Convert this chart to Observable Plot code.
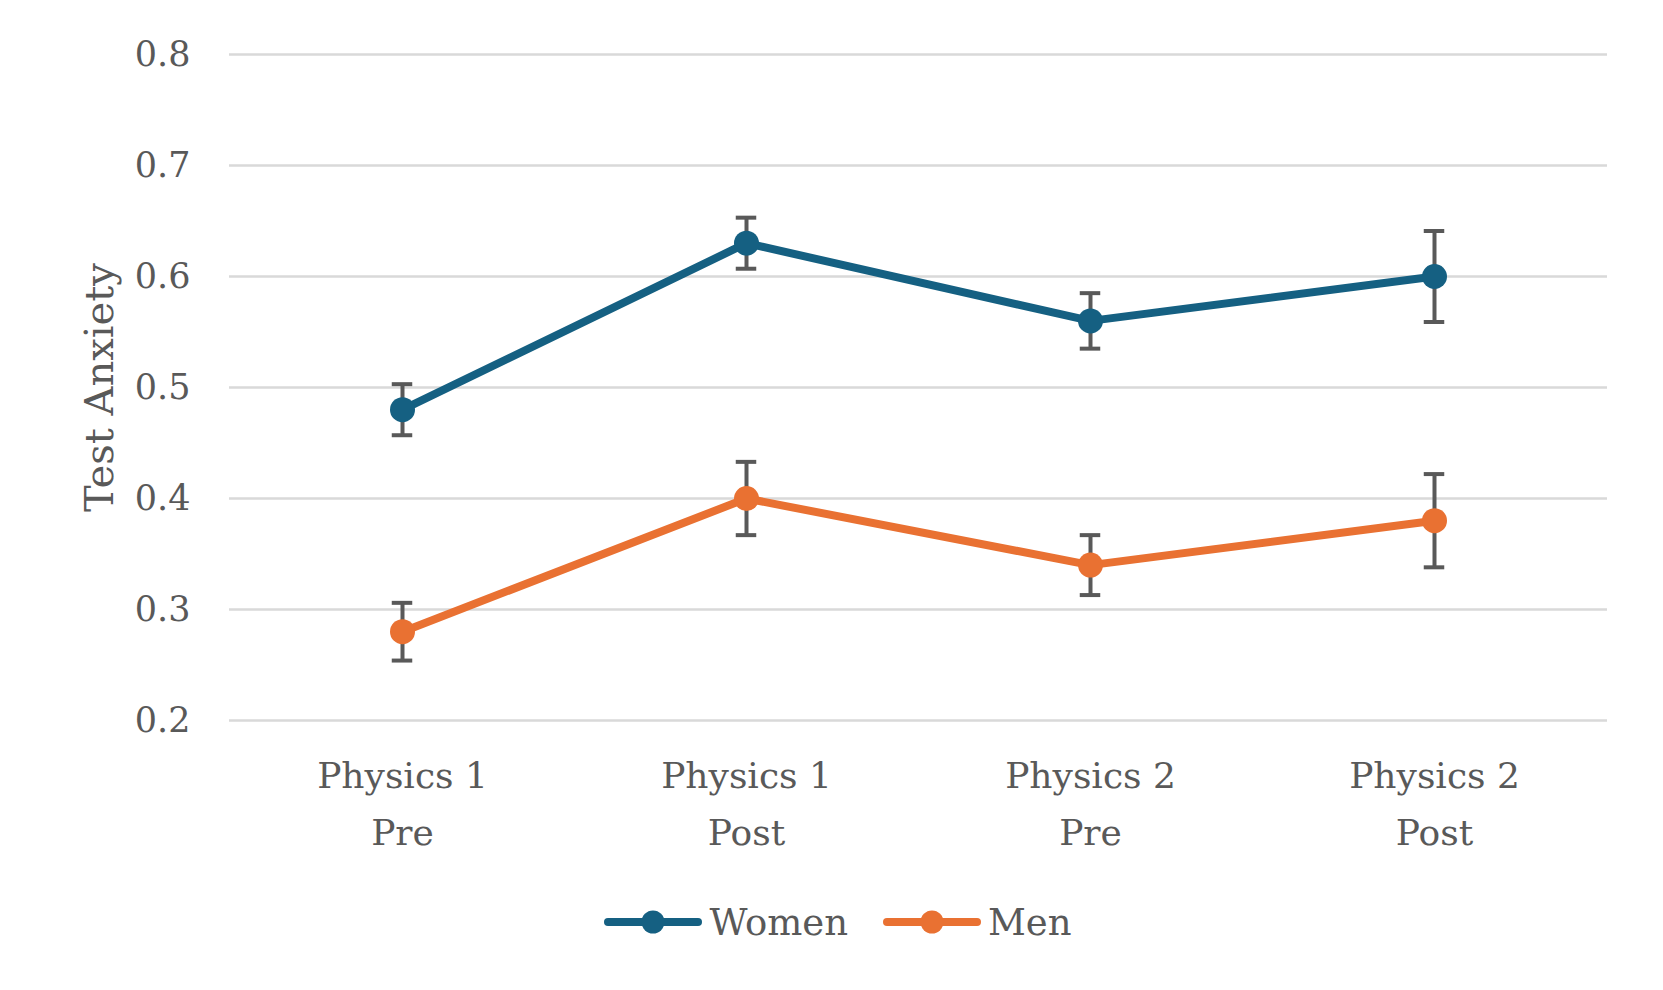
<!DOCTYPE html>
<html>
<head>
<meta charset="utf-8">
<script src="https://cdn.jsdelivr.net/npm/d3@7"></script>
<script src="https://cdn.jsdelivr.net/npm/@observablehq/plot@0.6"></script>
<style>
  html, body { margin: 0; padding: 0; background: #fff; }
  #chart svg { display: block; }
  .legend { height: 74px; display: flex; justify-content: center; align-items: center; font-family: "DejaVu Serif", serif; font-size: 37px; color: #595959; padding-left: 12px; }
  .legend .item { display: flex; align-items: center; margin: 0 17px; }
  .legend svg { margin-right: 6px; }
</style>
</head>
<body>
<div id="chart"></div>
<script>
const categories = ["Physics 1\nPre", "Physics 1\nPost", "Physics 2\nPre", "Physics 2\nPost"];
const seriesNames = ["Women", "Men"];
const seriesColors = ["#156082", "#E97132"];
const womenValues = [0.48, 0.63, 0.56, 0.60];
const womenErrors = [0.023, 0.023, 0.025, 0.041];
const menValues = [0.28, 0.40, 0.34, 0.38];
const menErrors = [0.026, 0.033, 0.027, 0.042];
const yTicks = [0.2, 0.3, 0.4, 0.5, 0.6, 0.7, 0.8];

const data = [];
categories.forEach((c, i) => {
  data.push({cat: c, series: "Women", value: womenValues[i], err: womenErrors[i]});
});
categories.forEach((c, i) => {
  data.push({cat: c, series: "Men", value: menValues[i], err: menErrors[i]});
});

const W = 1663, H = 885;
const mL = 229, mR = 56, mT = 54, mB = H - 720;
const bw = (W - mL - mR) / categories.length;
const capW = 21;
const inset = (bw - capW) / 2;
const text = "#595959";

const chart = Plot.plot({
  width: W,
  height: H,
  marginLeft: mL,
  marginRight: mR,
  marginTop: mT,
  marginBottom: mB,
  style: {fontFamily: "DejaVu Serif, serif", fontSize: "34px", color: text, background: "#fff"},
  x: {type: "band", domain: categories, padding: 0},
  y: {domain: [0.2, 0.8]},
  color: {domain: seriesNames, range: seriesColors},
  marks: [
    Plot.gridY(yTicks, {stroke: "#D9D9D9", strokeOpacity: 1, strokeWidth: 2.5}),
    Plot.axisY(yTicks, {tickSize: 0, tickPadding: 39, tickFormat: d3.format(".1f"), fontSize: 35, fill: text, label: null}),
    Plot.axisY({label: "Test Anxiety", labelAnchor: "center", labelArrow: "none", labelOffset: 145, fontSize: 40, fill: text, tickSize: 0, ticks: [], letterSpacing: 1}),
    Plot.axisX({tickSize: 0, tickPadding: 27, fontSize: 36, fill: text, lineHeight: 1.58, label: null}),
    Plot.ruleX(data, {x: "cat", y1: d => d.value - d.err, y2: d => d.value + d.err, stroke: text, strokeWidth: 4}),
    Plot.tickY(data, {x: "cat", y: d => d.value - d.err, stroke: text, strokeWidth: 4, insetLeft: inset, insetRight: inset}),
    Plot.tickY(data, {x: "cat", y: d => d.value + d.err, stroke: text, strokeWidth: 4, insetLeft: inset, insetRight: inset}),
    Plot.line(data, {x: "cat", y: "value", z: "series", stroke: "series", strokeWidth: 8, strokeLinecap: "round", strokeLinejoin: "round"}),
    Plot.dot(data, {x: "cat", y: "value", fill: "series", r: 12.5, stroke: "none"})
  ]
});
document.getElementById("chart").appendChild(chart);

const legend = document.createElement("div");
legend.className = "legend";
seriesNames.forEach((name, i) => {
  const item = document.createElement("div");
  item.className = "item";
  item.innerHTML = `<svg width="100" height="30"><line x1="5" x2="95" y1="15" y2="15" stroke="${seriesColors[i]}" stroke-width="8" stroke-linecap="round"/><circle cx="50" cy="15" r="11.5" fill="${seriesColors[i]}"/></svg><span>${name}</span>`;
  legend.appendChild(item);
});
document.body.appendChild(legend);
</script>
</body>
</html>
